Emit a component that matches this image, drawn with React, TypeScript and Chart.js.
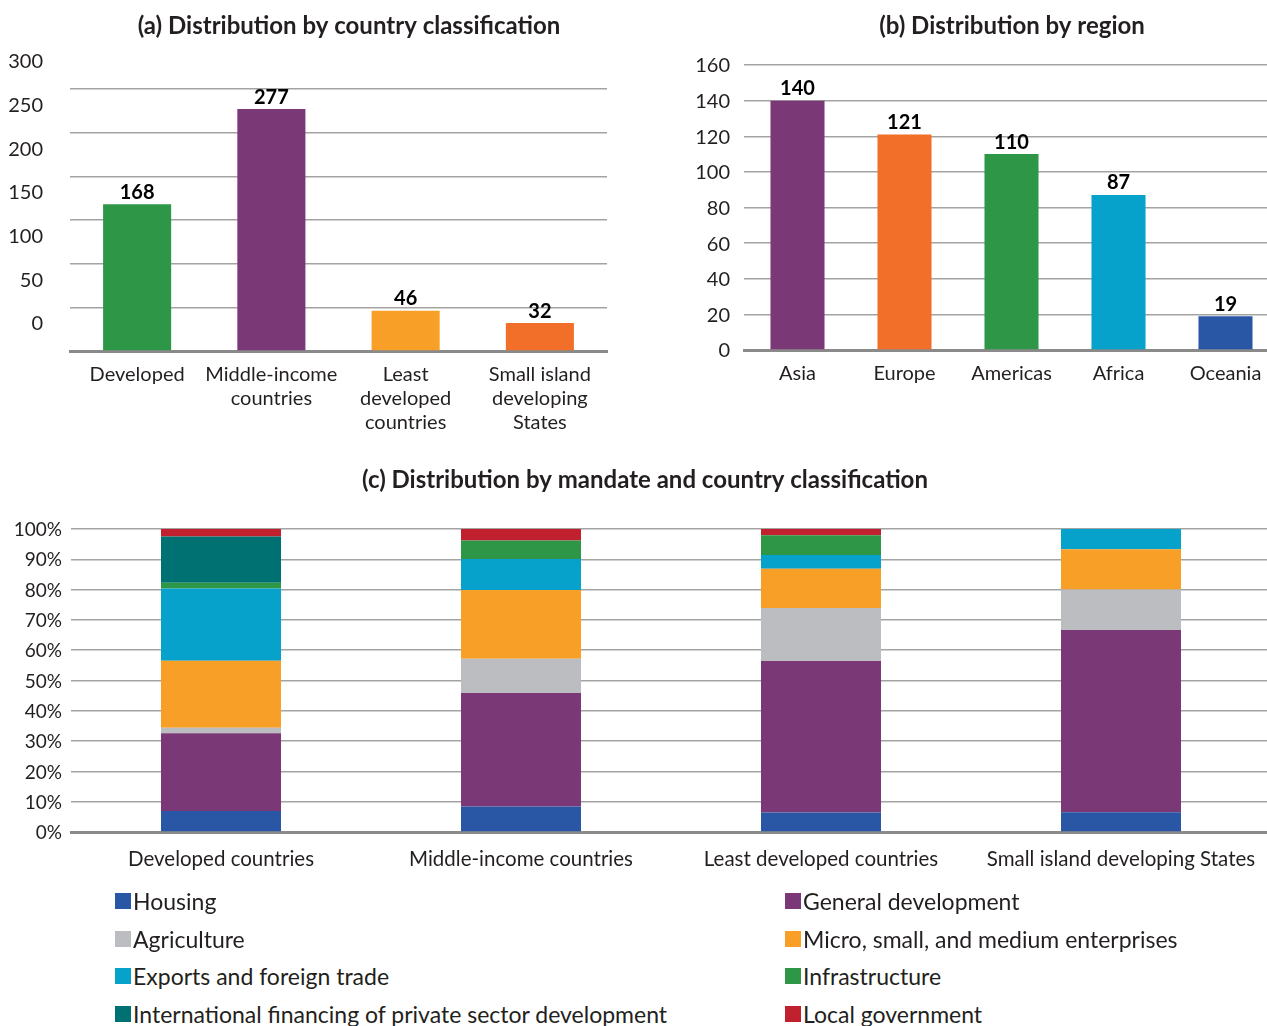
import React, { useEffect, useRef } from 'react';
import { Chart, registerables } from 'chart.js';

Chart.register(...registerables);

const FONT = 'Lato, "Open Sans", sans-serif';
const TEXT = '#231f20';
const GRID = '#a3a3a3';
const AXIS = '#8a8a8a';

// (a) Distribution by country classification
const classCategories = [['Developed'], ['Middle-income', 'countries'], ['Least', 'developed', 'countries'], ['Small island', 'developing', 'States']];
const classValues = [168, 277, 46, 32];
const classColors = ['#2d9747', '#7a3877', '#f79f27', '#f26f29'];

// (b) Distribution by region
const regionCategories = ['Asia', 'Europe', 'Americas', 'Africa', 'Oceania'];
const regionValues = [140, 121, 110, 87, 19];
const regionColors = ['#7a3877', '#f26f29', '#2d9747', '#06a2cb', '#2a57a5'];

// (c) Distribution by mandate and country classification (percent)
const mandateCategories = ['Developed countries', 'Middle-income countries', 'Least developed countries', 'Small island developing States'];
const mandateNames = [
  'Housing',
  'General development',
  'Agriculture',
  'Micro, small, and medium enterprises',
  'Exports and foreign trade',
  'Infrastructure',
  'International financing of private sector development',
  'Local government',
];
const mandateColors = ['#2a57a5', '#7a3877', '#bcbdc0', '#f79f27', '#06a2cb', '#2d9747', '#007173', '#c1202f'];
const housing = [6.9, 8.4, 6.4, 6.5];
const generalDevelopment = [25.7, 37.5, 50.0, 60.2];
const agriculture = [1.8, 11.3, 17.5, 13.3];
const msme = [22.1, 22.7, 13.0, 13.3];
const exportsTrade = [23.9, 10.2, 4.5, 6.7];
const infrastructure = [1.9, 6.1, 6.5, 0];
const intlFinancing = [15.2, 0, 0, 0];
const localGovernment = [2.5, 3.8, 2.1, 0];
const mandateSeries = [housing, generalDevelopment, agriculture, msme, exportsTrade, infrastructure, intlFinancing, localGovernment];

function titlePlugin(text: string, x: number, y: number) {
  return {
    id: 'fixedTitle',
    afterDraw(chart: any) {
      const ctx = chart.ctx;
      ctx.save();
      ctx.font = `bold 24px ${FONT}`;
      ctx.fillStyle = TEXT;
      ctx.textAlign = 'center';
      ctx.textBaseline = 'middle';
      ctx.fillText(text, x, y);
      ctx.restore();
    },
  };
}

function valueLabelPlugin(offset: number) {
  return {
    id: 'valueLabels',
    afterDatasetsDraw(chart: any) {
      const ctx = chart.ctx;
      const meta = chart.getDatasetMeta(0);
      const data = chart.data.datasets[0].data;
      ctx.save();
      ctx.font = `bold 20px ${FONT}`;
      ctx.fillStyle = '#000';
      ctx.textAlign = 'center';
      ctx.textBaseline = 'middle';
      meta.data.forEach((bar: any, i: number) => {
        ctx.fillText(String(data[i]), bar.x, bar.y - offset);
      });
      ctx.restore();
    },
  };
}

function simpleBarConfig(opts: {
  labels: any[];
  values: number[];
  colors: string[];
  max: number;
  step: number;
  yWidth: number;
  xHeight: number;
  padTop: number;
  padRight: number;
  yPad: number;
  labelOffset: number;
  barPct: number;
  title: string;
  titleX: number;
}) {
  return {
    type: 'bar' as const,
    data: {
      labels: opts.labels,
      datasets: [
        {
          data: opts.values,
          backgroundColor: opts.colors,
          borderWidth: 0,
          categoryPercentage: 1,
          barPercentage: opts.barPct,
        },
      ],
    },
    options: {
      responsive: false,
      animation: false as const,
      layout: { padding: { top: opts.padTop, right: opts.padRight, left: 0, bottom: 0 } },
      plugins: { legend: { display: false }, tooltip: { enabled: false }, title: { display: false } },
      scales: {
        x: {
          grid: { display: false, drawTicks: false },
          border: { display: true, color: AXIS, width: 3 },
          ticks: { color: TEXT, font: { family: FONT, size: 20 }, padding: 12, maxRotation: 0, autoSkip: false },
          afterFit: (s: any) => {
            s.height = opts.xHeight;
          },
        },
        y: {
          min: 0,
          max: opts.max,
          grid: { color: GRID, lineWidth: 1.5, drawTicks: false },
          border: { display: false },
          ticks: {
            stepSize: opts.step,
            color: TEXT,
            font: { family: FONT, size: 20 },
            padding: opts.yPad,
            labelOffset: opts.labelOffset,
          },
          afterFit: (s: any) => {
            s.width = opts.yWidth;
          },
        },
      },
    },
    plugins: [titlePlugin(opts.title, opts.titleX, 26), valueLabelPlugin(12)],
  };
}

function ChartCanvas({ config, width, height, style }: { config: any; width: number; height: number; style: React.CSSProperties }) {
  const ref = useRef<HTMLCanvasElement>(null);
  useEffect(() => {
    if (!ref.current) return;
    const chart = new Chart(ref.current, config);
    return () => chart.destroy();
  }, []);
  return <canvas ref={ref} width={width} height={height} style={{ position: 'absolute', width, height, ...style }} />;
}

export default function App() {
  const configA = simpleBarConfig({
    labels: classCategories,
    values: classValues,
    colors: classColors,
    max: 300,
    step: 50,
    yWidth: 70,
    xHeight: 89,
    padTop: 89,
    padRight: 33,
    yPad: 27,
    labelOffset: -27,
    barPct: 0.507,
    title: '(a) Distribution by country classification',
    titleX: 349,
  });
  const configB = simpleBarConfig({
    labels: regionCategories,
    values: regionValues,
    colors: regionColors,
    max: 160,
    step: 20,
    yWidth: 104,
    xHeight: 90,
    padTop: 65,
    padRight: 2,
    yPad: 14,
    labelOffset: 1,
    barPct: 0.505,
    title: '(b) Distribution by region',
    titleX: 1012 - 640,
  });
  const configC = {
    type: 'bar' as const,
    data: {
      labels: mandateCategories,
      datasets: mandateSeries.map((values, i) => ({
        label: mandateNames[i],
        data: values,
        backgroundColor: mandateColors[i],
        borderWidth: 0,
        categoryPercentage: 1,
        barPercentage: 0.4,
      })),
    },
    options: {
      responsive: false,
      animation: false as const,
      layout: { padding: { top: 79, right: 9, left: 0, bottom: 0 } },
      plugins: { legend: { display: false }, tooltip: { enabled: false }, title: { display: false } },
      scales: {
        x: {
          stacked: true,
          grid: { display: false, drawTicks: false },
          border: { display: true, color: AXIS, width: 3 },
          ticks: { color: TEXT, font: { family: FONT, size: 20.5 }, padding: 15, maxRotation: 0, autoSkip: false },
          afterFit: (s: any) => {
            s.height = 58;
          },
        },
        y: {
          stacked: true,
          min: 0,
          max: 100,
          grid: { color: GRID, lineWidth: 1.5, drawTicks: false },
          border: { display: false },
          ticks: {
            stepSize: 10,
            color: TEXT,
            font: { family: FONT, size: 19 },
            padding: 9,
            labelOffset: 1,
            callback: (v: any) => v + '%',
          },
          afterFit: (s: any) => {
            s.width = 71;
          },
        },
      },
    },
    plugins: [titlePlugin('(c) Distribution by mandate and country classification', 645, 30)],
  };

  return (
    <div style={{ position: 'absolute', left: 0, top: 0, width: 1267, height: 1026, overflow: 'hidden', background: '#fff', fontFamily: FONT }}>
      <ChartCanvas config={configA} width={640} height={440} style={{ left: 0, top: 0 }} />
      <ChartCanvas config={configB} width={641} height={440} style={{ left: 640, top: 0 }} />
      <ChartCanvas config={configC} width={1280} height={440} style={{ left: 0, top: 450 }} />
      {mandateNames.map((name, i) => {
        const col = i % 2;
        const row = Math.floor(i / 2);
        return (
          <div
            key={name}
            style={{
              position: 'absolute',
              left: col ? 785 : 115,
              top: 902 + row * 37.7 - 14,
              height: 26,
              display: 'flex',
              alignItems: 'center',
              whiteSpace: 'nowrap',
              fontSize: 23,
              color: TEXT,
            }}
          >
            <span style={{ display: 'inline-block', width: 16, height: 16, background: mandateColors[i], marginRight: 2 }} />
            <span>{name}</span>
          </div>
        );
      })}
    </div>
  );
}
